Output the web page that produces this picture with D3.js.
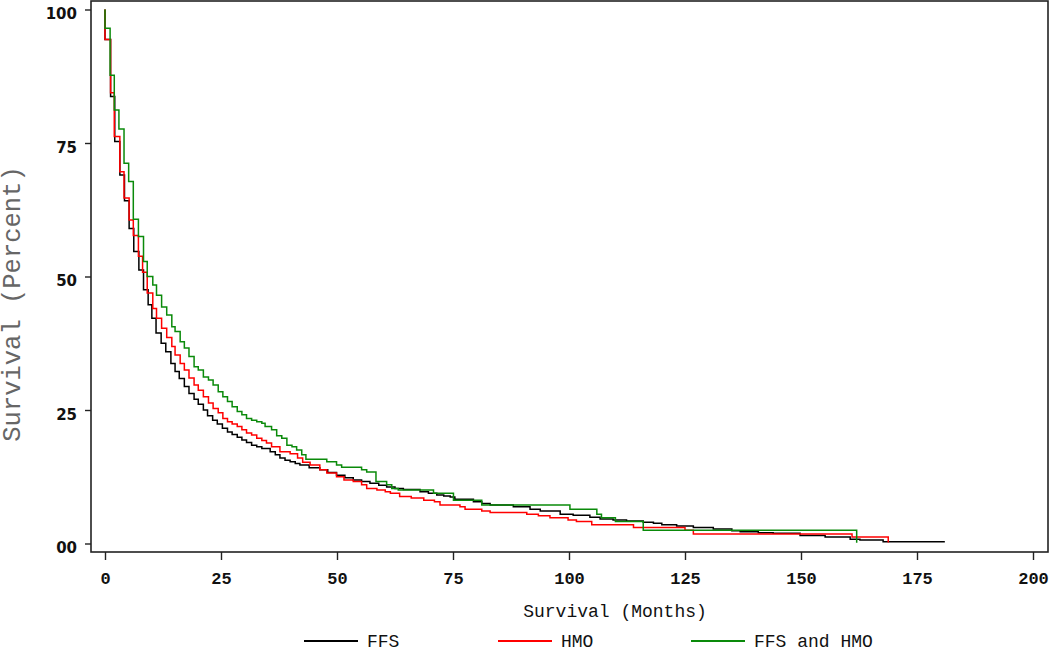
<!DOCTYPE html>
<html><head><meta charset="utf-8">
<script src="https://cdn.jsdelivr.net/npm/d3@7"></script>
<style>body{margin:0;background:#fff}svg{display:block}</style>
</head><body>
<svg id="c" width="1050" height="654"></svg>
<script>
// ---- data: [month, survival %] step points ----
const ffs = [[0,100],[0,94.4],[1.2,83.7],[2.1,75.3],[3.2,69.0],[4.2,64.2],[5.2,59.0],[6.2,54.7],[7.3,51.2],[8.3,47.5],[9.3,44.7],[10.1,42.2],[11.0,39.4],[12.1,37.5],[13.1,35.9],[14.2,33.7],[15.1,32.2],[16.0,30.9],[17.1,29.4],[18.1,28.1],[19.2,27.0],[20.1,26.1],[21.2,25.0],[22.1,23.9],[23.2,23.1],[24.2,22.4],[25.3,21.6],[26.4,20.9],[27.4,20.4],[28.5,19.9],[29.5,19.4],[30.5,18.9],[31.6,18.4],[32.7,18.1],[33.8,17.8],[35.6,17.2],[36.7,16.6],[37.7,16.0],[38.8,15.6],[39.9,15.3],[41.0,15.0],[42.0,14.7],[44.0,14.2],[46.3,13.8],[48.0,13.3],[49.9,12.8],[51.7,12.3],[53.5,11.9],[55.3,11.6],[57.1,11.3],[59.0,10.9],[60.7,10.6],[62.5,10.3],[64.3,10.1],[67.9,9.7],[69.7,9.4],[71.5,9.1],[73.0,8.9],[74.4,8.7],[75.4,8.3],[79.4,7.8],[81.2,7.5],[83.0,7.2],[88.0,6.9],[91.6,6.4],[93.8,6.1],[98.1,5.5],[100.9,5.3],[104.5,4.9],[106.7,4.6],[109.5,4.4],[112.4,4.2],[116.0,4.0],[118.2,3.8],[120.0,3.5],[123.2,3.3],[126.8,3.0],[131.1,2.7],[135.1,2.4],[136.9,2.2],[140.8,2.0],[144.0,1.9],[149.8,1.5],[155.2,1.2],[160.6,0.8],[162.7,0.66],[167.7,0.34],[181,0.34]];
const hmo = [[0,100],[0,94.4],[1.2,84.4],[2.0,76.2],[3.2,69.6],[4.1,64.7],[5.2,60.6],[6.1,57.7],[7.2,53.8],[8.1,50.8],[9.1,46.9],[10.3,44.0],[11.1,42.2],[12.2,40.3],[13.3,38.6],[14.4,36.9],[15.1,35.3],[16.2,33.7],[17.1,32.5],[18.1,31.0],[19.2,29.7],[20.1,28.7],[21.2,27.5],[22.3,26.3],[23.3,25.3],[24.4,24.5],[25.4,23.4],[26.4,22.8],[27.4,22.4],[28.5,21.9],[29.5,21.3],[30.5,20.7],[31.6,20.3],[32.7,19.7],[33.8,19.3],[34.8,18.8],[35.9,18.1],[37.7,17.2],[39.9,16.8],[41.5,16.0],[42.6,15.2],[44.2,14.7],[46.3,13.8],[47.8,13.2],[49.9,12.5],[51.5,11.9],[53.5,11.6],[55.3,11.0],[56.4,10.3],[58.6,10.0],[60.4,9.7],[61.5,9.4],[63.5,8.8],[66.0,8.5],[68.7,8.1],[71.0,7.8],[72.2,7.2],[76.5,6.9],[77.6,6.4],[81.2,6.1],[83.0,5.8],[90.9,5.5],[93.4,5.2],[95.9,4.8],[99.8,4.4],[101.6,4.1],[104.9,3.5],[113.9,3.0],[125.0,2.5],[126.8,1.8],[161.0,1.2],[168.8,0.2]];
const both = [[0,100],[0,96.5],[1.1,87.7],[2.0,81.2],[3.0,77.6],[4.1,71.2],[5.1,67.8],[6.1,60.7],[7.2,57.5],[8.3,52.8],[9.1,50.0],[10.3,48.4],[11.1,46.5],[12.2,44.3],[13.3,42.8],[14.4,40.6],[15.1,39.7],[16.2,37.8],[17.1,36.6],[18.1,35.0],[19.2,33.1],[20.1,32.5],[21.2,31.2],[22.3,30.6],[23.3,29.7],[24.4,28.4],[25.4,27.5],[26.4,26.6],[27.4,25.6],[28.5,24.7],[29.5,24.1],[30.5,23.4],[31.6,23.1],[32.7,22.8],[33.8,22.5],[34.5,21.9],[35.9,21.3],[37.0,20.2],[38.1,19.7],[39.2,18.4],[40.3,18.1],[41.3,17.5],[42.4,16.6],[43.3,15.8],[47.8,15.3],[49.9,14.7],[51.0,14.3],[55.3,13.8],[56.4,13.4],[58.4,11.6],[60.7,11.0],[61.8,10.3],[63.2,10.0],[70.8,9.4],[75.1,8.1],[81.2,7.2],[100.2,6.4],[106.0,5.5],[107.0,4.8],[110.0,4.1],[116.0,2.5],[162.0,0.15]];

const seriesNames = ["FFS", "HMO", "FFS and HMO"];
const seriesColors = ["#000000", "#ff0000", "#0a8a0a"];
const xTicks = [0, 25, 50, 75, 100, 125, 150, 175, 200];
const yTicks = [0, 25, 50, 75, 100];
const yTickLabels = ["00", "25", "50", "75", "100"];
const xTitle = "Survival (Months)";
const yTitle = "Survival (Percent)";

// ---- drawing ----
const svg = d3.select("#c");
const frame = {l: 91, r: 1048, t: 1, b: 552};
const x = d3.scaleLinear().domain([0, 200]).range([105, 1033]);
const y = d3.scaleLinear().domain([0, 100]).range([543.5, 9.5]);

// frame
svg.append("rect").attr("x", frame.l).attr("y", frame.t)
  .attr("width", frame.r - frame.l).attr("height", frame.b - frame.t)
  .attr("fill", "none").attr("stroke", "#222").attr("stroke-width", 1.6);

// x axis
const xAxis = d3.axisBottom(x).tickValues(xTicks).tickSize(8).tickPadding(12).tickFormat(d3.format("d"));
const gx = svg.append("g").attr("transform", `translate(0,${frame.b})`).call(xAxis);
gx.select(".domain").remove();
gx.selectAll(".tick line").attr("stroke", "#222").attr("stroke-width", 1.4);
gx.selectAll(".tick text").attr("font-family", "'Liberation Mono', 'DejaVu Sans Mono', monospace")
  .attr("font-size", 17).attr("font-weight", "bold").attr("fill", "#111")
  .attr("dy", "0.71em").attr("y", 20);

// y axis
const yAxis = d3.axisLeft(y).tickValues(yTicks).tickSize(6).tickPadding(8)
  .tickFormat((d, i) => yTickLabels[i]);
const gy = svg.append("g").attr("transform", `translate(${frame.l},0)`).call(yAxis);
gy.select(".domain").remove();
gy.selectAll(".tick line").attr("stroke", "#222").attr("stroke-width", 1.4);
gy.selectAll(".tick text").attr("font-family", "'DejaVu Sans', sans-serif")
  .attr("font-size", 15).attr("font-weight", "bold").attr("fill", "#111")
  .attr("x", -14).attr("dy", "0.62em");

// titles
svg.append("text").attr("x", 615).attr("y", 617).attr("text-anchor", "middle")
  .attr("font-family", "'Liberation Mono', 'DejaVu Sans Mono', monospace")
  .attr("font-size", 18).attr("fill", "#111").text(xTitle);
svg.append("text").attr("transform", "translate(20,304) rotate(-90)").attr("text-anchor", "middle")
  .attr("font-family", "'Liberation Mono', 'DejaVu Sans Mono', monospace")
  .attr("font-size", 25.5).attr("fill", "#666").text(yTitle);

// curves
const line = d3.line().x(d => x(d[0])).y(d => y(d[1])).curve(d3.curveStepAfter);
[ffs, hmo, both].forEach((s, i) => {
  svg.append("path").datum(s).attr("d", line).attr("fill", "none")
    .attr("stroke", seriesColors[i]).attr("stroke-width", 1.5);
});

// legend
const legendX = [304, 498, 691];
const lg = svg.append("g");
seriesNames.forEach((n, i) => {
  lg.append("line").attr("x1", legendX[i]).attr("x2", legendX[i] + 54)
    .attr("y1", 641).attr("y2", 641).attr("stroke", seriesColors[i]).attr("stroke-width", 1.8);
  lg.append("text").attr("x", legendX[i] + 63).attr("y", 647)
    .attr("font-family", "'Liberation Mono', 'DejaVu Sans Mono', monospace")
    .attr("font-size", 18).attr("fill", "#111").text(n);
});
</script>
</body></html>
